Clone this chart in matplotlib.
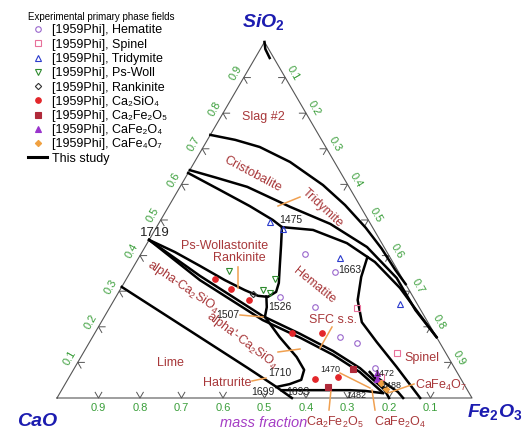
import numpy as np
import matplotlib.pyplot as plt
from matplotlib.transforms import Affine2D

plt.rcParams['font.family'] = ['Liberation Sans', 'DejaVu Sans']
plt.rcParams['mathtext.fontset'] = 'custom'
plt.rcParams['mathtext.rm'] = 'Liberation Sans'
plt.rcParams['mathtext.it'] = 'Liberation Sans:italic'
plt.rcParams['mathtext.bf'] = 'Liberation Sans:bold'

# compositions in mass fractions: (SiO2, Fe2O3), CaO is the rest

# calculated boundaries (this study)
gap_top_sio2 = [1.0, 0.98, 0.955]
gap_top_fe2o3 = [0.0, 0.012, 0.035]
slag_cristo_sio2 = [0.739, 0.725, 0.705, 0.663, 0.598, 0.542, 0.478, 0.42, 0.36, 0.32]
slag_cristo_fe2o3 = [0.0, 0.067, 0.136, 0.230, 0.342, 0.423, 0.505, 0.572, 0.635, 0.68]
cristo_trid_sio2 = [0.640, 0.618, 0.593, 0.537, 0.489, 0.424, 0.337, 0.247, 0.171]
cristo_trid_fe2o3 = [0.0, 0.077, 0.162, 0.293, 0.414, 0.535, 0.650, 0.740, 0.829]
trid_low_sio2 = [0.632, 0.584, 0.539, 0.500, 0.480, 0.472, 0.435, 0.382, 0.309, 0.233, 0.171]
trid_low_fe2o3 = [0.0, 0.101, 0.195, 0.270, 0.302, 0.381, 0.481, 0.575, 0.672, 0.758, 0.829]
pswoll_sio2 = [0.444, 0.410, 0.371, 0.331, 0.303, 0.287, 0.284, 0.298, 0.323, 0.374, 0.430, 0.480]
pswoll_fe2o3 = [0.0, 0.079, 0.159, 0.239, 0.301, 0.341, 0.366, 0.379, 0.373, 0.350, 0.325, 0.302]
seg1526_sio2 = [0.285, 0.255, 0.228]
seg1526_fe2o3 = [0.362, 0.378, 0.387]
c2s_up_sio2 = [0.444, 0.343, 0.230, 0.180, 0.132, 0.084, 0.017]
c2s_up_fe2o3 = [0.0, 0.173, 0.381, 0.496, 0.599, 0.688, 0.787]
sfc_low_sio2 = [0.444, 0.331, 0.219, 0.169, 0.121, 0.073, 0.014]
sfc_low_fe2o3 = [0.0, 0.179, 0.386, 0.502, 0.605, 0.693, 0.779]
alpha2_sio2 = [0.228, 0.171, 0.115, 0.079, 0.051, 0.039, 0.031]
alpha2_fe2o3 = [0.387, 0.451, 0.520, 0.556, 0.563, 0.541, 0.513]
lime_sio2 = [0.312, 0.191, 0.084, 0.034, 0.0]
lime_fe2o3 = [0.0, 0.222, 0.418, 0.508, 0.566]
c2f_up_sio2 = [0.022, 0.022, 0.022, 0.020, 0.014]
c2f_up_fe2o3 = [0.530, 0.623, 0.695, 0.732, 0.775]
hem_sp_sio2 = [0.396, 0.340, 0.275, 0.213, 0.157, 0.087, 0.0]
hem_sp_fe2o3 = [0.550, 0.563, 0.587, 0.628, 0.692, 0.775, 0.875]
cf_a_sio2 = [0.073, 0.031, 0.0]
cf_a_fe2o3 = [0.717, 0.770, 0.80]
cf_b_sio2 = [0.056, 0.017, 0.0]
cf_b_fe2o3 = [0.745, 0.813, 0.834]

boundaries = [
    (gap_top_sio2, gap_top_fe2o3), (slag_cristo_sio2, slag_cristo_fe2o3),
    (cristo_trid_sio2, cristo_trid_fe2o3), (trid_low_sio2, trid_low_fe2o3),
    (pswoll_sio2, pswoll_fe2o3), (seg1526_sio2, seg1526_fe2o3),
    (c2s_up_sio2, c2s_up_fe2o3), (sfc_low_sio2, sfc_low_fe2o3),
    (alpha2_sio2, alpha2_fe2o3), (lime_sio2, lime_fe2o3),
    (c2f_up_sio2, c2f_up_fe2o3), (hem_sp_sio2, hem_sp_fe2o3),
    (cf_a_sio2, cf_a_fe2o3), (cf_b_sio2, cf_b_fe2o3),
]

# experimental points [1959Phi]
hematite_sio2 = [0.284, 0.404, 0.256, 0.354, 0.171, 0.154, 0.084]
hematite_fe2o3 = [0.395, 0.396, 0.494, 0.493, 0.596, 0.646, 0.724]
spinel_sio2 = [0.253, 0.126, 0.059]
spinel_fe2o3 = [0.597, 0.756, 0.751]
tridymite_sio2 = [0.494, 0.475, 0.393, 0.264]
tridymite_fe2o3 = [0.266, 0.307, 0.485, 0.695]
pswoll_pt_sio2 = [0.357, 0.334, 0.303, 0.295]
pswoll_pt_fe2o3 = [0.236, 0.358, 0.344, 0.366]
rankinite_sio2 = [0.292]
rankinite_fe2o3 = [0.326]
c2s_sio2 = [0.334, 0.306, 0.275, 0.183, 0.183, 0.053, 0.059]
c2s_fe2o3 = [0.214, 0.266, 0.325, 0.475, 0.548, 0.595, 0.647]
c2f_sio2 = [0.031, 0.081]
c2f_fe2o3 = [0.638, 0.672]
cf_sio2 = [0.053, 0.070]
cf_fe2o3 = [0.744, 0.735]
cf2_sio2 = [0.042, 0.025]
cf2_fe2o3 = [0.760, 0.780]

ticks = [0.1, 0.2, 0.3, 0.4, 0.5, 0.6, 0.7, 0.8, 0.9]


def tern(sio2, fe2o3):
    s = np.asarray(sio2, dtype=float)
    f = np.asarray(fe2o3, dtype=float)
    return f + s / 2, s * np.sqrt(3) / 2


fig = plt.figure(figsize=(5.29, 4.32), dpi=100)
ax = fig.add_axes([0, 0, 1, 1])
ax.set_xlim(-0.1373, 1.1373)
ax.set_ylim(-0.0827, 0.9681)
ax.axis('off')
pix = Affine2D().scale(1 / 529, -1 / 432).translate(0, 1) + fig.transFigure

# triangle
tx, ty = tern([0, 0, 1, 0], [0, 1, 0, 0])
ax.plot(tx, ty, color='#555555', lw=0.8, zorder=1)

# chevron ticks and labels
L = 0.016
green = '#3a9e3a'
r3 = np.sqrt(3) / 2
for v in ticks:
    # bottom: CaO
    x, y = tern(0, 1 - v)
    ax.plot([x - L * 0.5, x, x + L * 0.5], [y + L * r3, y, y + L * r3], color='#555555', lw=0.7)
    ax.text(x, y - 0.025, f'{v:.1f}', color=green, fontsize=8, ha='center', va='center')
    # left: SiO2
    x, y = tern(v, 0)
    ax.plot([x + L, x, x + L * 0.5], [y, y, y - L * r3], color='#555555', lw=0.7)
    ax.text(x - 0.0195, y + 0.0115, f'{v:.1f}', color=green, fontsize=8, rotation=60,
            ha='center', va='center')
    # right: Fe2O3
    x, y = tern(1 - v, v)
    ax.plot([x - L, x, x - L * 0.5], [y, y, y - L * r3], color='#555555', lw=0.7)
    ax.text(x + 0.0195, y + 0.0115, f'{v:.1f}', color=green, fontsize=8, rotation=-60,
            ha='center', va='center')

# calculated lines
for s, f in boundaries:
    bx, by = tern(s, f)
    ax.plot(bx, by, color='black', lw=1.8, zorder=3)

# orange leaders
leaders = [[(278, 206), (300, 197)], [(238, 267), (238, 288)], [(332, 327), (320, 348)],
           [(278, 352), (300, 349)], [(240, 315), (263, 317)], [(252, 381), (266, 378)],
           [(331, 390), (329, 410)], [(372, 390), (375, 410)], [(388, 393), (414, 384)],
           [(340, 373), (370, 388)]]
for (x0, y0), (x1, y1) in leaders:
    ax.plot([x0, x1], [y0, y1], color='#f0a050', lw=1.1, transform=pix, zorder=4)

# experimental markers
series = [
    (hematite_sio2, hematite_fe2o3, 'o', '#9966cc', False, '[1959Phi], Hematite'),
    (spinel_sio2, spinel_fe2o3, 's', '#e8709a', False, '[1959Phi], Spinel'),
    (tridymite_sio2, tridymite_fe2o3, '^', '#2a3acc', False, '[1959Phi], Tridymite'),
    (pswoll_pt_sio2, pswoll_pt_fe2o3, 'v', '#2e8b2e', False, '[1959Phi], Ps-Woll'),
    (rankinite_sio2, rankinite_fe2o3, 'D', '#333333', False, '[1959Phi], Rankinite'),
    (c2s_sio2, c2s_fe2o3, 'o', '#e3262a', True, '[1959Phi], Ca₂SiO₄'),
    (c2f_sio2, c2f_fe2o3, 's', '#b02a3a', True, '[1959Phi], Ca₂Fe₂O₅'),
    (cf_sio2, cf_fe2o3, '^', '#9933cc', True, '[1959Phi], CaFe₂O₄'),
    (cf2_sio2, cf2_fe2o3, 'D', '#f0a040', True, '[1959Phi], CaFe₄O₇'),
]
handles = []
for s, f, m, c, filled, lab in series:
    mx, my = tern(s, f)
    ms = 3.2 if m == 'D' else 4
    h, = ax.plot(mx, my, ls='none', marker=m, ms=ms, mec=c, mew=0.8,
                 mfc=c if filled else 'none', label=lab, zorder=5)
    handles.append(h)
study, = ax.plot([], [], color='black', lw=2.2, label='This study')
handles.append(study)

leg = ax.legend(handles=handles, loc='upper left', bbox_to_anchor=(22 / 529, 1 - 6 / 432),
                bbox_transform=fig.transFigure, frameon=False, fontsize=9,
                labelspacing=0.18, handlelength=1.5, handletextpad=0.4, borderpad=0,
                title='Experimental primary phase fields', title_fontsize=7,
                alignment='left')

# phase field labels
red = '#a8383a'
phase_labels = [
    ('Slag #2', 263, 117, 0), ('Cristobalite', 253, 174, -28), ('Tridymite', 322, 208, -43),
    ('Ps-Wollastonite', 225, 246, 0), ('Rankinite', 239, 258, 0), ('Hematite', 314, 285, -39),
    ('alpha-Ca$_2$SiO$_4$', 183, 287, -34), ("alpha'-Ca$_2$SiO$_4$", 242, 340, -37),
    ('SFC s.s.', 333, 320, 0), ('Lime', 170, 363, 0), ('Hatrurite', 227, 383, 0),
    ('Spinel', 422, 358, 0), ('CaFe$_4$O$_7$', 441, 385, 0),
    ('Ca$_2$Fe$_2$O$_5$', 335, 422, 0), ('CaFe$_2$O$_4$', 400, 422, 0),
]
for t, x, y, r in phase_labels:
    ax.text(x, y, t, color=red, fontsize=9, rotation=r, ha='center', va='center',
            rotation_mode='anchor', transform=pix, zorder=6)

# invariant temperatures
temps = [('1719', 155, 233, 9.5), ('1475', 291, 220, 7.5), ('1663', 350, 270, 7.5),
         ('1526', 280, 307, 7.5), ('1507', 228, 315, 7.5), ('1710', 280, 373, 7.5),
         ('1699', 263, 392, 7.5), ('1693', 298, 392, 7.5), ('1470', 330, 370, 6.5),
         ('1472', 384, 373, 6.5), ('1488', 391, 386, 6.5), ('1482', 356, 395, 6.5)]
for t, x, y, fs in temps:
    ax.text(x, y, t, color='#222222', fontsize=fs, ha='center', va='center',
            transform=pix, zorder=6)

# corners
blue = '#1c1cb0'
for t, x, y in [(r'SiO$_\mathbf{2}$', 263, 22), ('CaO', 37, 421),
                (r'Fe$_\mathbf{2}$O$_\mathbf{3}$', 495, 412)]:
    ax.text(x, y, t, color=blue, fontsize=14, fontweight='bold', fontstyle='italic',
            ha='center', va='center', transform=pix)

ax.text(264, 423, 'mass fraction', color='#a43cc4', fontsize=10.5, fontstyle='italic',
        ha='center', va='center', transform=pix)

fig.savefig('out.png', dpi=100)
